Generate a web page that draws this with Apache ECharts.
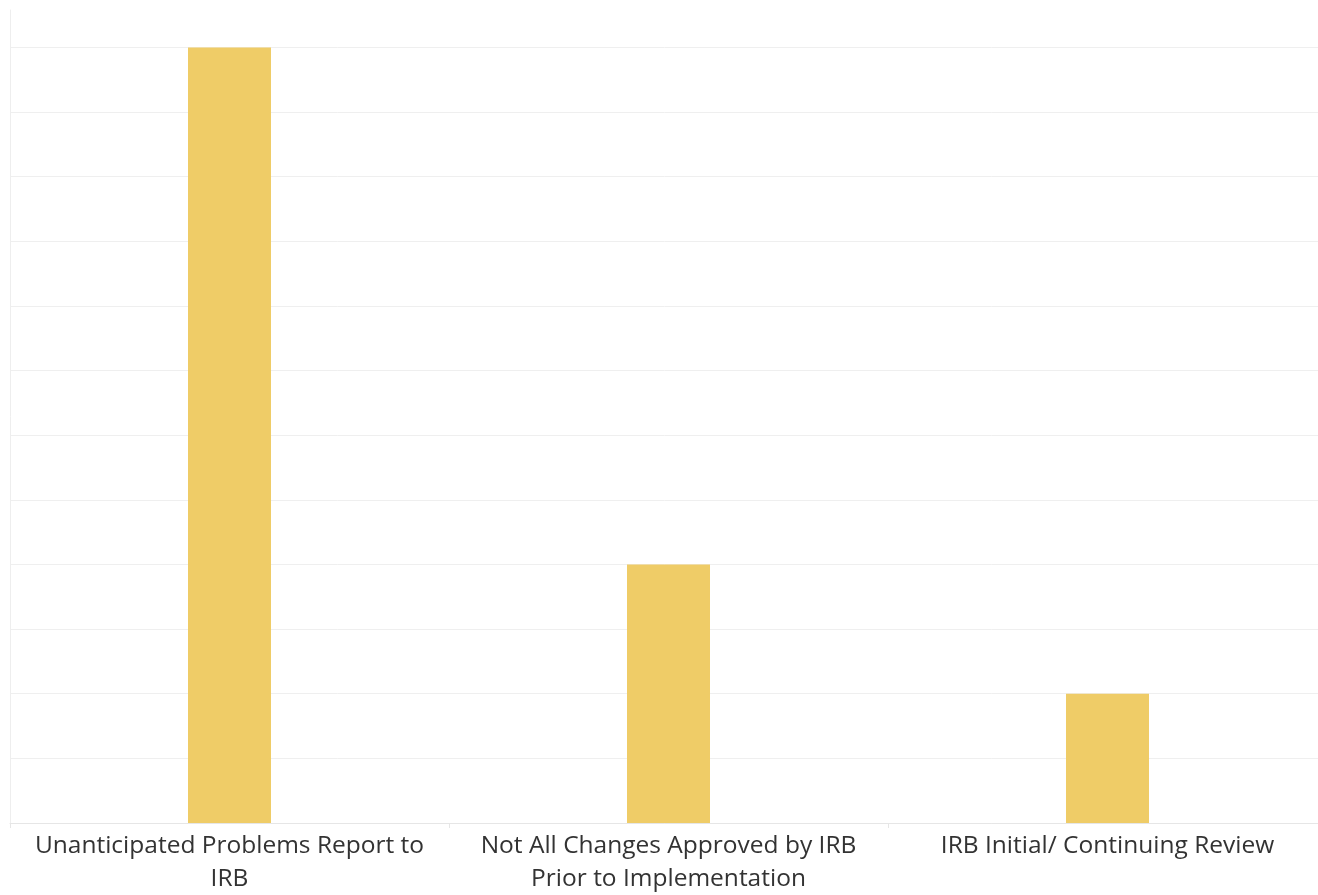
<!DOCTYPE html>
<html>
<head>
<meta charset="utf-8">
<title>IRB findings</title>
<script src="https://cdn.jsdelivr.net/npm/echarts@6/dist/echarts.min.js"></script>
<style>
  html, body { margin: 0; padding: 0; background: #ffffff; overflow: hidden; }
  #chart { width: 1318px; height: 895px; }
</style>
</head>
<body>
<div id="chart"></div>
<script>
// Finding categories (line breaks where the labels wrap)
const categories = [
  'Unanticipated Problems Report to\nIRB',
  'Not All Changes Approved by IRB\nPrior to Implementation',
  'IRB Initial/ Continuing Review'
];
// Count of findings per category
const counts = [12, 4, 2];

// Value axis range: grid lines every 1, with headroom above the top line
const yMin = 0;
const yMax = 12.58;
const yStep = 1;

// Grid lines 0..12 drawn light grey; the extent line at yMax is left blank
const gridColors = [];
for (let v = yMin; v <= 12; v += yStep) gridColors.push('#efefef');
gridColors.push('rgba(0,0,0,0)');

const chart = echarts.init(document.getElementById('chart'), null, { renderer: 'canvas' });
chart.setOption({
  backgroundColor: '#ffffff',
  animation: false,
  grid: { left: 10, right: -9, top: 10, bottom: 72, containLabel: false, outerBoundsMode: 'none' },
  xAxis: {
    type: 'category',
    data: categories,
    axisLine: { show: true, lineStyle: { color: '#e6e6e6', width: 1 } },
    axisTick: { show: true, alignWithLabel: false, length: 5, lineStyle: { color: '#e6e6e6' } },
    axisLabel: {
      interval: 0,
      margin: 7,
      fontFamily: 'Open Sans, Noto Sans, sans-serif',
      fontSize: 24.5,
      lineHeight: 33,
      color: '#333333'
    },
    splitLine: { show: false }
  },
  yAxis: {
    type: 'value',
    min: yMin,
    max: yMax,
    interval: yStep,
    axisLine: { show: true, lineStyle: { color: '#eeeeee', width: 1 } },
    axisTick: { show: false },
    axisLabel: { show: false },
    splitLine: { show: true, lineStyle: { color: gridColors, width: 1 } }
  },
  series: [{
    type: 'bar',
    data: counts,
    barWidth: 83,
    itemStyle: { color: '#EFCC67' },
    emphasis: { disabled: true }
  }]
});
</script>
</body>
</html>
